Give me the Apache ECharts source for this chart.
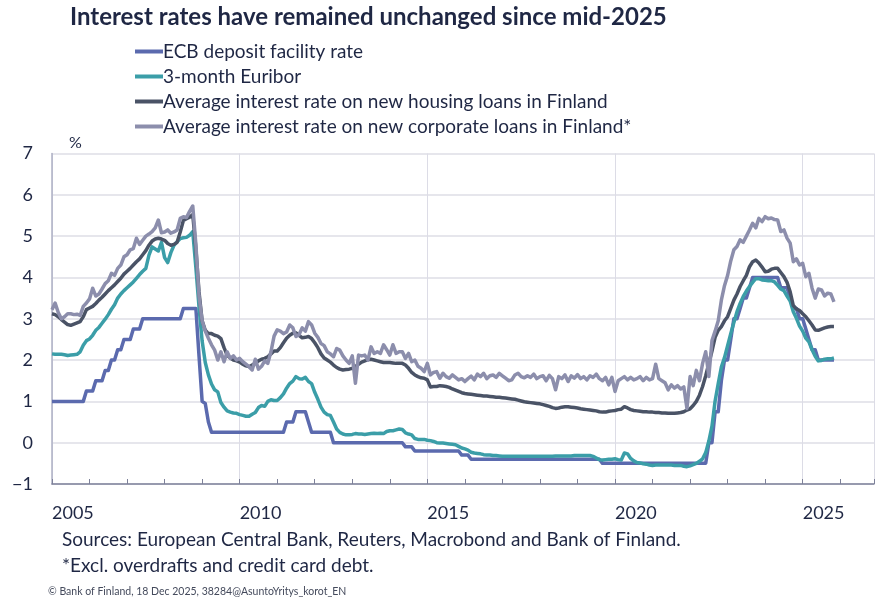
<!DOCTYPE html>
<html>
<head>
<meta charset="utf-8">
<script src="https://cdn.jsdelivr.net/npm/echarts@6/dist/echarts.min.js"></script>
<style>
  html, body { margin: 0; padding: 0; background: #ffffff; }
  #chart { width: 877px; height: 604px; }
</style>
</head>
<body>
<div id="chart"></div>
<script>
// Monthly series, first value = January 2005
const START_YEAR = 2005;

const seriesNames = [
  'ECB deposit facility rate',
  '3-month Euribor',
  'Average interest rate on new housing loans in Finland',
  'Average interest rate on new corporate loans in Finland*'
];

const ecbRate = [
  1.00,1.00,1.00,1.00,1.00,1.00,1.00,1.00,1.00,1.00,1.00,1.25,
  1.25,1.25,1.50,1.50,1.50,1.75,1.75,2.00,2.00,2.25,2.25,2.50,
  2.50,2.50,2.75,2.75,2.75,3.00,3.00,3.00,3.00,3.00,3.00,3.00,
  3.00,3.00,3.00,3.00,3.00,3.00,3.25,3.25,3.25,3.25,3.25,2.10,
  1.00,0.95,0.50,0.25,0.25,0.25,0.25,0.25,0.25,0.25,0.25,0.25,
  0.25,0.25,0.25,0.25,0.25,0.25,0.25,0.25,0.25,0.25,0.25,0.25,
  0.25,0.25,0.25,0.50,0.50,0.50,0.75,0.75,0.75,0.75,0.50,0.25,
  0.25,0.25,0.25,0.25,0.25,0.25,0.00,0.00,0.00,0.00,0.00,0.00,
  0.00,0.00,0.00,0.00,0.00,0.00,0.00,0.00,0.00,0.00,0.00,0.00,
  0.00,0.00,0.00,0.00,0.00,-0.10,-0.10,-0.10,-0.20,-0.20,-0.20,-0.20,
  -0.20,-0.20,-0.20,-0.20,-0.20,-0.20,-0.20,-0.20,-0.20,-0.20,-0.20,-0.30,
  -0.30,-0.30,-0.40,-0.40,-0.40,-0.40,-0.40,-0.40,-0.40,-0.40,-0.40,-0.40,
  -0.40,-0.40,-0.40,-0.40,-0.40,-0.40,-0.40,-0.40,-0.40,-0.40,-0.40,-0.40,
  -0.40,-0.40,-0.40,-0.40,-0.40,-0.40,-0.40,-0.40,-0.40,-0.40,-0.40,-0.40,
  -0.40,-0.40,-0.40,-0.40,-0.40,-0.40,-0.40,-0.40,-0.50,-0.50,-0.50,-0.50,
  -0.50,-0.50,-0.50,-0.50,-0.50,-0.50,-0.50,-0.50,-0.50,-0.50,-0.50,-0.50,
  -0.50,-0.50,-0.50,-0.50,-0.50,-0.50,-0.50,-0.50,-0.50,-0.50,-0.50,-0.50,
  -0.50,-0.50,-0.50,-0.50,-0.50,-0.50,0.00,0.00,0.75,0.75,1.50,2.00,
  2.00,2.50,3.00,3.00,3.25,3.50,3.50,3.75,4.00,4.00,4.00,4.00,
  4.00,4.00,4.00,4.00,4.00,3.75,3.75,3.75,3.50,3.25,3.25,3.00,
  3.00,2.75,2.50,2.25,2.25,2.00,2.00,2.00,2.00,2.00,2.00
];

const euribor3m = [
  2.15,2.14,2.14,2.14,2.13,2.11,2.12,2.13,2.14,2.20,2.36,2.47,
  2.51,2.60,2.72,2.79,2.89,2.99,3.10,3.23,3.34,3.50,3.60,3.68,
  3.75,3.82,3.89,3.98,4.07,4.15,4.22,4.54,4.74,4.69,4.64,4.85,
  4.48,4.36,4.60,4.78,4.86,4.94,4.96,4.97,5.02,5.11,4.24,3.29,
  2.46,1.94,1.64,1.42,1.28,1.23,0.97,0.86,0.77,0.74,0.72,0.71,
  0.68,0.66,0.64,0.64,0.69,0.73,0.85,0.90,0.88,1.00,1.04,1.02,
  1.02,1.09,1.18,1.32,1.43,1.49,1.60,1.55,1.54,1.58,1.48,1.43,
  1.22,1.05,0.86,0.74,0.68,0.66,0.50,0.33,0.25,0.21,0.19,0.19,
  0.20,0.22,0.21,0.21,0.20,0.21,0.22,0.23,0.22,0.23,0.22,0.27,
  0.29,0.29,0.31,0.33,0.32,0.24,0.21,0.19,0.10,0.08,0.08,0.08,
  0.06,0.05,0.03,0.00,-0.01,-0.01,-0.02,-0.03,-0.04,-0.05,-0.09,-0.13,
  -0.15,-0.18,-0.23,-0.25,-0.26,-0.27,-0.29,-0.30,-0.30,-0.31,-0.31,-0.32,
  -0.33,-0.33,-0.33,-0.33,-0.33,-0.33,-0.33,-0.33,-0.33,-0.33,-0.33,-0.33,
  -0.33,-0.33,-0.33,-0.33,-0.33,-0.32,-0.32,-0.32,-0.32,-0.32,-0.32,-0.31,
  -0.31,-0.31,-0.31,-0.31,-0.31,-0.33,-0.37,-0.41,-0.42,-0.41,-0.40,-0.40,
  -0.39,-0.41,-0.42,-0.25,-0.27,-0.38,-0.44,-0.48,-0.49,-0.51,-0.52,-0.54,
  -0.55,-0.54,-0.54,-0.54,-0.54,-0.54,-0.54,-0.55,-0.55,-0.55,-0.57,-0.58,
  -0.56,-0.53,-0.50,-0.45,-0.39,-0.24,0.04,0.40,1.01,1.43,1.83,2.06,
  2.35,2.64,2.91,3.17,3.37,3.54,3.67,3.78,3.88,3.97,3.97,3.94,
  3.93,3.92,3.92,3.89,3.81,3.72,3.68,3.55,3.43,3.17,3.01,2.82,
  2.70,2.53,2.44,2.25,2.09,1.98,1.99,2.02,2.03,2.03,2.05
];

const housingLoanRate = [
  3.12,3.10,3.05,2.98,2.92,2.86,2.84,2.87,2.90,2.93,3.05,3.22,
  3.26,3.30,3.37,3.45,3.52,3.60,3.68,3.75,3.82,3.90,3.98,4.08,
  4.15,4.22,4.30,4.38,4.45,4.55,4.65,4.78,4.88,4.93,4.95,4.93,
  4.90,4.82,4.78,4.80,4.85,5.10,5.38,5.42,5.46,5.52,4.70,3.65,
  2.95,2.72,2.64,2.64,2.60,2.58,2.52,2.30,2.12,2.05,2.00,1.98,
  1.95,1.90,1.86,1.84,1.88,1.92,1.98,2.02,2.04,2.08,2.15,2.22,
  2.22,2.30,2.42,2.53,2.60,2.65,2.66,2.60,2.54,2.55,2.57,2.52,
  2.42,2.30,2.15,2.05,2.00,1.95,1.88,1.82,1.78,1.76,1.77,1.78,
  1.80,1.84,1.90,1.95,1.98,2.01,2.02,2.00,1.98,1.96,1.94,1.94,
  1.94,1.93,1.92,1.92,1.92,1.88,1.80,1.70,1.64,1.60,1.57,1.56,
  1.52,1.35,1.36,1.36,1.38,1.37,1.36,1.34,1.30,1.27,1.24,1.21,
  1.19,1.18,1.17,1.16,1.15,1.14,1.13,1.13,1.12,1.11,1.10,1.10,
  1.09,1.08,1.07,1.06,1.05,1.03,1.01,0.99,0.98,0.97,0.96,0.95,
  0.94,0.92,0.90,0.88,0.85,0.83,0.84,0.86,0.87,0.87,0.86,0.85,
  0.84,0.82,0.81,0.80,0.79,0.78,0.77,0.75,0.74,0.74,0.76,0.77,
  0.78,0.80,0.81,0.87,0.84,0.80,0.78,0.77,0.76,0.75,0.75,0.74,
  0.74,0.73,0.73,0.72,0.72,0.71,0.71,0.71,0.72,0.73,0.75,0.79,
  0.82,0.90,1.00,1.15,1.36,1.62,1.92,2.22,2.55,2.72,2.81,2.95,
  3.05,3.25,3.45,3.60,3.78,3.92,4.05,4.26,4.38,4.42,4.35,4.25,
  4.14,4.15,4.20,4.22,4.22,4.12,4.02,3.88,3.65,3.32,3.24,3.20,
  3.12,3.05,2.95,2.85,2.73,2.72,2.75,2.78,2.80,2.81,2.81
];

const corporateLoanRate = [
  3.22,3.38,3.15,3.00,3.05,3.12,3.12,3.10,3.11,3.08,3.30,3.38,
  3.48,3.74,3.55,3.60,3.72,3.85,3.92,4.10,4.05,4.22,4.30,4.50,
  4.55,4.67,4.70,4.95,4.80,4.90,5.00,5.05,5.11,5.20,5.39,5.08,
  5.10,5.15,5.07,5.10,5.15,5.43,5.47,5.45,5.60,5.73,4.80,3.55,
  2.95,2.70,2.53,2.37,2.24,2.00,2.20,1.96,2.20,2.04,2.10,2.00,
  2.04,1.96,1.90,1.84,1.76,2.02,1.78,1.85,1.98,1.92,2.20,2.58,
  2.73,2.70,2.64,2.68,2.85,2.78,2.57,2.62,2.78,2.70,2.93,2.85,
  2.65,2.55,2.40,2.35,2.20,2.15,2.08,2.28,2.24,2.10,2.00,1.92,
  2.10,1.44,2.12,2.10,2.12,2.00,2.32,2.16,2.20,2.16,2.37,2.25,
  2.12,2.37,2.16,2.20,2.20,2.04,2.16,1.96,2.00,1.85,1.80,1.72,
  1.92,1.64,1.70,1.72,1.56,1.68,1.60,1.56,1.64,1.58,1.52,1.55,
  1.48,1.55,1.61,1.52,1.66,1.60,1.68,1.55,1.62,1.64,1.58,1.68,
  1.62,1.56,1.50,1.52,1.64,1.68,1.60,1.57,1.62,1.58,1.66,1.55,
  1.60,1.62,1.50,1.63,1.55,1.28,1.60,1.55,1.64,1.48,1.62,1.56,
  1.65,1.55,1.60,1.52,1.62,1.58,1.66,1.55,1.50,1.58,1.40,1.58,
  1.24,1.50,1.55,1.60,1.52,1.58,1.52,1.55,1.60,1.50,1.58,1.52,
  1.55,1.90,1.55,1.50,1.45,1.28,1.40,1.32,1.38,1.30,1.35,0.83,
  1.60,1.38,1.75,1.50,1.92,2.20,1.60,2.47,2.70,2.95,3.45,3.80,
  4.05,4.40,4.67,4.75,4.91,4.85,5.00,5.15,5.31,5.20,5.43,5.35,
  5.47,5.42,5.44,5.40,5.39,5.11,5.15,4.95,4.83,4.38,4.45,4.30,
  4.34,4.02,4.10,3.74,3.50,3.72,3.70,3.55,3.62,3.60,3.41
];

const seriesColors = ['#5b6aae', '#3b9ea8', '#4a5366', '#8c8eac'];
const yTicks = { min: -1, max: 7, step: 1 };
const xRange = { min: 2005, max: 2026.9 };

const titleText = 'Interest rates have remained unchanged since mid-2025';
const sourceText = 'Sources: European Central Bank, Reuters, Macrobond and Bank of Finland.';
const noteText = '*Excl. overdrafts and credit card debt.';
const creditText = '\u00A9 Bank of Finland, 18 Dec 2025, 38284@AsuntoYritys_korot_EN';

// month index -> decimal year
const toPairs = arr => arr.map((v, i) => [START_YEAR + i / 12, v]);
const allValues = [ecbRate, euribor3m, housingLoanRate, corporateLoanRate];

const FONT = 'Lato, "Open Sans", sans-serif';
const TEXT = '#1f2744';

const chart = echarts.init(document.getElementById('chart'), null, { renderer: 'canvas' });

chart.setOption({
  animation: false,
  backgroundColor: '#ffffff',
  textStyle: { fontFamily: FONT },
  grid: { left: 52, right: 0, top: 153.5, bottom: 120, containLabel: false },
  legend: {
    orient: 'vertical',
    left: 130,
    top: 36,
    itemWidth: 28,
    itemHeight: 4,
    itemGap: 4,
    icon: 'rect',
    textStyle: { fontFamily: FONT, fontSize: 19, color: TEXT, lineHeight: 21, padding: [0, 0, 0, -5] },
    data: seriesNames
  },
  xAxis: [
    {
      type: 'value',
      min: xRange.min,
      max: xRange.max,
      interval: 1,
      axisLine: { show: true, onZero: false, lineStyle: { color: '#7d8199', width: 1.5 } },
      axisTick: { show: true, inside: true, length: 5, lineStyle: { color: '#7d8199', width: 1 } },
      axisLabel: { show: false },
      splitLine: { show: false }
    },
    {
      type: 'value',
      min: xRange.min,
      max: xRange.max,
      interval: 5,
      position: 'bottom',
      axisLine: { show: false },
      axisTick: { show: false },
      axisLabel: {
        show: true,
        align: 'left',
        margin: 20,
        fontSize: 18,
        color: TEXT,
        fontFamily: FONT,
        formatter: v => (Number.isInteger(v) ? String(v) : '')
      },
      splitLine: { show: true, lineStyle: { color: '#dcdce6', width: 1 } }
    }
  ],
  yAxis: {
    type: 'value',
    min: yTicks.min,
    max: yTicks.max,
    interval: yTicks.step,
    axisLine: { show: true, lineStyle: { color: '#aeb0c4', width: 1.5 } },
    axisTick: { show: false },
    axisLabel: {
      margin: 19,
      fontSize: 18,
      color: TEXT,
      fontFamily: FONT,
      formatter: v => (v < 0 ? '\u2212' + Math.abs(v) : String(v))
    },
    splitLine: { show: true, lineStyle: { color: '#dedee6', width: 1.5 } }
  },
  series: seriesNames.map((name, k) => ({
    name,
    type: 'line',
    xAxisIndex: 0,
    data: toPairs(allValues[k]),
    showSymbol: false,
    symbol: 'none',
    lineStyle: { color: seriesColors[k], width: 3.5, join: 'round' },
    itemStyle: { color: seriesColors[k] },
    z: 2 + k
  })),
  graphic: [
    {
      type: 'text', left: 70, top: 5,
      style: { text: titleText, font: 'bold 24px ' + FONT, fill: TEXT }
    },
    {
      type: 'text', left: 69, top: 135,
      style: { text: '%', font: '16px ' + FONT, fill: TEXT }
    },
    {
      type: 'text', left: 62, top: 530,
      style: { text: sourceText, font: '19px ' + FONT, fill: TEXT }
    },
    {
      type: 'text', left: 62, top: 556,
      style: { text: noteText, font: '19px ' + FONT, fill: TEXT }
    },
    {
      type: 'text', left: 48, top: 586,
      style: { text: creditText, font: '10.5px ' + FONT, fill: '#444a5c' }
    }
  ]
});
</script>
</body>
</html>
